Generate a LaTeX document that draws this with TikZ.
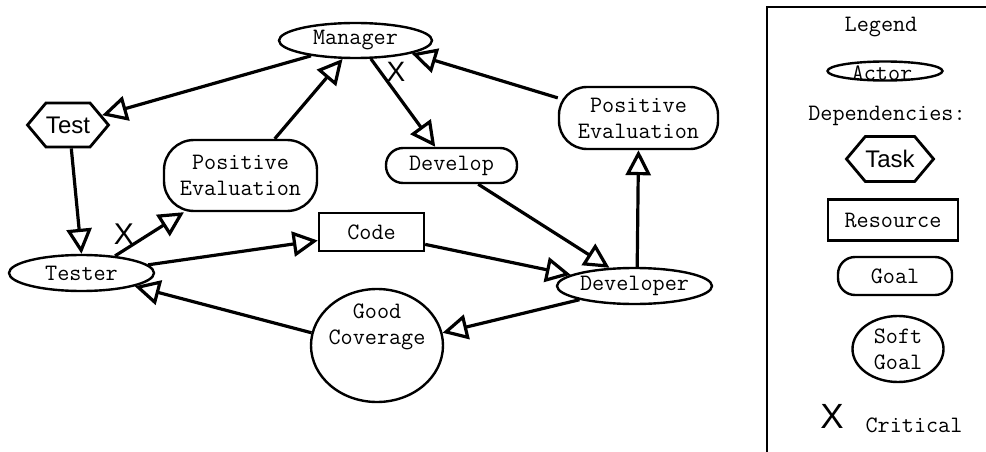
\documentclass[tikz,border=0pt]{standalone}
\usepackage{fontspec}
\newfontfamily\sansf{Liberation Sans}
\usetikzlibrary{arrows.meta,shapes.geometric,shapes.symbols}
\begin{document}
\begin{tikzpicture}[x=1pt,y=-1pt,
  every node/.style={line width=2.4pt, font=\ttfamily\fontsize{23.5}{26}\selectfont, inner sep=0pt, align=center},
  actor/.style={draw, ellipse},
  goal/.style={draw, rectangle, rounded corners=#1},
  goal/.default=17pt,
  res/.style={draw, rectangle},
  task/.style={draw, signal, signal to=west and east, signal pointer angle=100, line width=2.8pt, font=\sansf\fontsize{24}{26}\selectfont},
  soft/.style={draw, ellipse},
  xl/.style={font=\sansf\fontsize{28}{30}\selectfont},
  dep/.style={line width=3.2pt, -{Triangle[open,length=25pt,width=25pt]}},
]
\useasboundingbox (0,0) rectangle (986,452);
\fill[white] (0,0) rectangle (986,452);

% main diagram nodes
\node[actor, minimum width=153pt, minimum height=35pt] (Manager) at (355.5,40.5) {Manager};
\node[task, minimum width=81pt, minimum height=44pt] (Test) at (68,125) {Test};
\node[goal=30pt, minimum width=153pt, minimum height=71pt] (PE1) at (240.5,175.5) {Positive\\Evaluation};
\node[goal, minimum width=131pt, minimum height=35pt] (Develop) at (451.5,165.5) {Develop};
\node[goal=28pt, minimum width=159pt, minimum height=62pt] (PE2) at (638.5,118) {Positive\\Evaluation};
\node[res, minimum width=105pt, minimum height=38pt] (Code) at (371.5,232) {Code};
\node[actor, minimum width=145pt, minimum height=36pt] (Tester) at (81.5,273) {Tester};
\node[soft, minimum width=132pt, minimum height=113pt] (GC) at (377,345.5) {};
\node (GCt) at (377,327) {Good\\Coverage};
\node[actor, minimum width=155pt, minimum height=36pt] (Developer) at (634.5,286) {Developer};

% dependencies
\draw[dep] (Manager.199) -- (Test.16);
\draw[dep] (PE1.47) -- (Manager.235);
\draw[dep] (Manager.310) -- (Develop.131.5);
\draw[dep] (PE2.166) -- (Manager.347);
\draw[dep] (Develop.325) -- (Developer.144);
\draw[dep] (Developer.82) -- (PE2.270);
\draw[dep] (Test.278) -- (Tester.90);
\draw[dep] (Tester.27) -- (PE1.213);
\draw[dep] (Tester.7) -- (Code.189);
\draw[dep] (Code.347) -- (Developer.170);
\draw[dep] (Developer.194) -- (GC.11);
\draw[dep] (GC.169) -- (Tester.346);

% critical marks
\node[xl] (X1) at (396,72) {X};
\node[xl, font=\sansf\fontsize{30}{32}\selectfont] (X2) at (124,234) {X};

% legend
\begin{scope}
\clip (0,0) rectangle (986,452);
\draw[line width=2.6pt] (767,7) rectangle (1010,480);
\end{scope}
\node (LegT) at (881,27) {Legend};
\node[actor, minimum width=115pt, minimum height=19pt] (LActor) at (885,71) {};
\node (LActorT) at (882,73) {Actor};
\node (LDep) at (887,116) {Dependencies:};
\node[task, minimum width=83pt, minimum height=45pt] (LTask) at (890,159) {Task};
\node[res, minimum width=130pt, minimum height=41pt] (LRes) at (893,220) {Resource};
\node[goal, minimum width=114pt, minimum height=38pt] (LGoal) at (895,276) {Goal};
\node[soft, minimum width=91pt, minimum height=66pt] (LSoft) at (898,349) {Soft\\Goal};
\node[font=\sansf\fontsize{35}{36}\selectfont] (LX) at (832,416) {X};
\node (LCrit) at (914,425) {Critical};
\end{tikzpicture}
\end{document}
